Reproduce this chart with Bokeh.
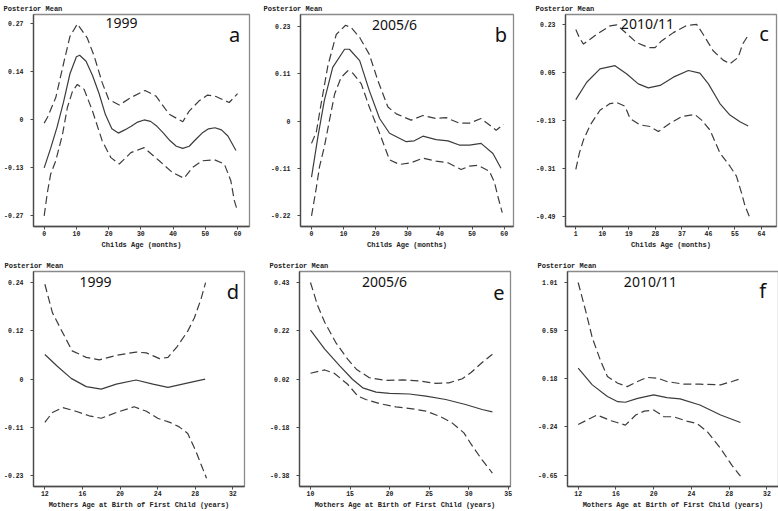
import numpy as np
from bokeh.plotting import figure
from bokeh.models import Range1d, FixedTicker, Label
from bokeh.layouts import column, row
from bokeh.embed import file_html
from bokeh.resources import INLINE

# ---------------- data ----------------
# Panel a: Childs Age, 1999
a_mean_x = [0, 2, 4, 6, 8, 10, 11, 13, 15, 17, 19, 21, 23, 25, 27, 29, 31, 33, 35, 37, 39, 41, 43, 45, 47, 49, 51, 53, 55, 57, 59.5]
a_mean = [-0.135, -0.08, -0.02, 0.05, 0.13, 0.178, 0.182, 0.165, 0.125, 0.075, 0.015, -0.025, -0.037, -0.028, -0.018, -0.006, 0.0, -0.004, -0.018, -0.037, -0.058, -0.074, -0.08, -0.074, -0.055, -0.037, -0.025, -0.022, -0.028, -0.045, -0.086]
a_up_x = [0, 1, 3.6, 6.2, 8, 10.3, 13.4, 15.5, 18, 20, 23.3, 26.9, 31.3, 34.7, 38.8, 43, 45, 48, 50.7, 53.3, 57.4, 60]
a_up = [-0.009, 0.007, 0.063, 0.166, 0.235, 0.27, 0.23, 0.18, 0.105, 0.058, 0.042, 0.063, 0.083, 0.067, 0.016, -0.005, 0.025, 0.053, 0.07, 0.066, 0.049, 0.074]
a_lo_x = [0, 1, 2, 3.6, 5.7, 7.2, 8.8, 10.3, 12.4, 15, 18, 20.7, 23.3, 26.9, 31, 35.7, 39.8, 43.4, 46, 49, 52.8, 55.9, 57.9, 59, 60]
a_lo = [-0.27, -0.204, -0.153, -0.115, -0.04, 0.035, 0.081, 0.1, 0.086, 0.025, -0.059, -0.106, -0.124, -0.092, -0.078, -0.115, -0.148, -0.164, -0.134, -0.115, -0.112, -0.124, -0.171, -0.227, -0.257]

# Panel b: Childs Age, 2005/6
b_mean_x = [0, 2, 4, 6.6, 10.3, 11.8, 15, 18, 21.2, 24.3, 29.5, 32, 34.7, 38.8, 42.5, 46, 49.2, 52.8, 56.5, 59]
b_mean = [-0.128, -0.032, 0.054, 0.132, 0.175, 0.175, 0.148, 0.077, 0.011, -0.024, -0.044, -0.042, -0.031, -0.039, -0.042, -0.052, -0.052, -0.048, -0.072, -0.107]
b_up_x = [0, 1.5, 3, 5.1, 7.7, 10.6, 12.4, 15, 18, 20.7, 23.8, 26.4, 31, 34.7, 38.8, 41.9, 46, 49.2, 52.8, 57.5, 59.8]
b_up = [-0.048, -0.021, 0.046, 0.136, 0.21, 0.232, 0.226, 0.203, 0.163, 0.1, 0.038, 0.022, 0.007, 0.018, 0.011, 0.013, 0.0, 0.0, 0.011, -0.017, -0.003]
b_lo_x = [0, 1.5, 2.5, 4, 5.6, 7.2, 9.2, 11.3, 12.9, 15.5, 18, 21.2, 24.3, 27.4, 31, 34.7, 38.8, 42.5, 46.6, 49.2, 51.8, 55.4, 57, 58, 59.4]
b_lo = [-0.22, -0.153, -0.103, -0.056, 0.007, 0.069, 0.108, 0.124, 0.118, 0.093, 0.038, -0.024, -0.087, -0.098, -0.094, -0.083, -0.09, -0.094, -0.11, -0.102, -0.1, -0.114, -0.141, -0.173, -0.212]

# Panel c: Childs Age, 2010/11
c_mean_x = [1, 4.7, 9.2, 14.3, 18.3, 22.2, 25.6, 29.6, 34.1, 39.2, 43.1, 46, 49.9, 53.3, 56.7, 59.5]
c_mean = [-0.052, 0.013, 0.063, 0.075, 0.044, 0.007, -0.008, 0.001, 0.032, 0.057, 0.047, 0.007, -0.067, -0.11, -0.135, -0.151]
c_up_x = [1, 2.2, 3.6, 8.1, 12.6, 14.9, 18.3, 21.6, 25.6, 27.9, 30.1, 34.1, 38.6, 42, 44.2, 47.6, 51, 53.3, 56.1, 57.6, 59.5]
c_up = [0.211, 0.18, 0.156, 0.193, 0.224, 0.228, 0.195, 0.162, 0.143, 0.143, 0.168, 0.199, 0.226, 0.23, 0.193, 0.131, 0.096, 0.082, 0.106, 0.156, 0.189]
c_lo_x = [1, 2.2, 3.6, 5.9, 9.2, 12.6, 14.9, 17.7, 19.4, 22.8, 26.2, 29, 33, 36.9, 41.4, 43.7, 46.5, 49.9, 53.3, 55.5, 57.2, 58.4, 60]
c_lo = [-0.314, -0.253, -0.203, -0.147, -0.092, -0.067, -0.063, -0.077, -0.123, -0.147, -0.153, -0.172, -0.141, -0.116, -0.108, -0.129, -0.166, -0.252, -0.302, -0.339, -0.401, -0.45, -0.494]

# Panel d: Mothers Age, 1999
d_mean_x = [12, 13.35, 14.8, 16.4, 18, 19.6, 21.7, 23.5, 25.1, 27, 29.05]
d_mean = [0.065, 0.036, 0.007, -0.013, -0.019, -0.007, 0.003, -0.007, -0.015, -0.005, 0.005]
d_up_x = [12, 12.8, 13.9, 14.9, 16.4, 17.8, 19.6, 21.7, 22.8, 24.2, 25.1, 26.1, 27.2, 27.9, 28.6, 29.1]
d_up = [0.236, 0.167, 0.118, 0.074, 0.058, 0.052, 0.063, 0.071, 0.069, 0.055, 0.058, 0.085, 0.122, 0.154, 0.199, 0.24]
d_lo_x = [12, 12.8, 13.9, 15.3, 16.7, 18, 19.6, 21.5, 22.8, 24, 25.3, 26.3, 27.2, 28.1, 28.8, 29.2]
d_lo = [-0.1, -0.076, -0.064, -0.073, -0.084, -0.09, -0.076, -0.062, -0.073, -0.09, -0.1, -0.111, -0.127, -0.172, -0.213, -0.236]

# Panel e: Mothers Age, 2005/6
e_mean_x = [10, 11.8, 13.7, 15.3, 16.6, 18.3, 20, 22.5, 24.6, 27.1, 29.6, 31.7, 33]
e_mean = [0.23, 0.15, 0.08, 0.024, -0.012, -0.03, -0.035, -0.038, -0.047, -0.061, -0.082, -0.103, -0.113]
e_up_x = [10, 10.9, 11.8, 13.2, 14.7, 15.8, 17.4, 19.5, 21.6, 23.7, 25.8, 27.5, 29.2, 30.3, 31.7, 33]
e_up = [0.43, 0.333, 0.263, 0.178, 0.108, 0.066, 0.031, 0.019, 0.021, 0.017, 0.007, 0.009, 0.026, 0.052, 0.094, 0.129]
e_lo_x = [10, 11.8, 13, 14.7, 16, 17, 18.7, 20.8, 22.9, 24.6, 26.3, 27.9, 29.4, 30.5, 31.7, 33]
e_lo = [0.049, 0.063, 0.049, 0.003, -0.047, -0.061, -0.078, -0.092, -0.1, -0.11, -0.131, -0.159, -0.201, -0.258, -0.314, -0.37]

# Panel f: Mothers Age, 2010/11
f_mean_x = [12, 13.5, 15.1, 16.2, 17, 18.3, 20, 21.4, 22.8, 24.9, 27.1, 29.2]
f_mean = [0.273, 0.128, 0.027, -0.017, -0.022, 0.012, 0.041, 0.018, 0.007, -0.046, -0.132, -0.196]
f_up_x = [12, 12.8, 13.5, 14.4, 15.1, 16.2, 17.2, 18.3, 19.3, 20.4, 21.4, 23.2, 24.9, 27.1, 28.3, 29.2]
f_up = [1.01, 0.764, 0.533, 0.33, 0.2, 0.142, 0.113, 0.157, 0.192, 0.186, 0.157, 0.134, 0.134, 0.128, 0.157, 0.18]
f_lo_x = [12, 14, 15.5, 17, 18.1, 19, 20, 21.1, 22.1, 23.5, 24.6, 25.7, 27.1, 28.3, 29.2]
f_lo = [-0.213, -0.132, -0.181, -0.219, -0.132, -0.098, -0.089, -0.147, -0.147, -0.184, -0.205, -0.277, -0.421, -0.566, -0.659]

# ticks
a_xticks = [0, 10, 20, 30, 40, 50, 60]
b_xticks = [0, 10, 20, 30, 40, 50, 60]
c_xticks = [1, 10, 19, 28, 37, 46, 55, 64]
d_xticks = [12, 16, 20, 24, 28, 32]
e_xticks = [10, 15, 20, 25, 30, 35]
f_xticks = [12, 16, 20, 24, 28, 32]

a_ylabels = ["-0.27", "-0.13", "0", "0.14", "0.27"]
b_ylabels = ["-0.22", "-0.11", "0", "0.11", "0.23"]
c_ylabels = ["-0.49", "-0.31", "-0.13", "0.05", "0.23"]
d_ylabels = ["-0.23", "-0.11", "0", "0.12", "0.24"]
e_ylabels = ["-0.38", "-0.18", "0.02", "0.22", "0.43"]
f_ylabels = ["-0.65", "-0.24", "0.18", "0.59", "1.01"]

years = ["1999", "2005/6", "2010/11", "1999", "2005/6", "2010/11"]
letters = ["a", "b", "c", "d", "e", "f"]
xlabel_child = "Childs Age (months)"
xlabel_mother = "Mothers Age at Birth of First Child (years)"
ylabel_text = "Posterior Mean"

LINE = "#3c3c3c"
MONO = "Liberation Mono"
SANS = "Noto Sans"


def build(series, xr, yr, xticks, ylabels, xlabel, i, geo):
    (left, right, top, bottom, fw, fh, pm_dx, yr_x, yr_dy, let_dx, let_dy) = geo
    p = figure(frame_width=fw, frame_height=fh,
               x_range=Range1d(*xr), y_range=Range1d(*yr),
               output_backend="svg", toolbar_location=None,
               min_border_left=left, min_border_right=right,
               min_border_top=top, min_border_bottom=bottom)
    p.xgrid.visible = False
    p.ygrid.visible = False
    p.outline_line_color = "#8a8a8a"
    p.outline_line_width = 1.3

    # "Posterior Mean" as the plot title, placed at the top-left
    p.title.text = ylabel_text
    p.title.align = "left"
    p.title.offset = pm_dx
    p.title.standoff = 4
    p.title.text_font = MONO
    p.title.text_font_style = "bold"
    p.title.text_font_size = "7px"
    p.title.text_color = "#222222"

    lo_v = float(ylabels[0]); hi_v = float(ylabels[-1])
    yt = [float(v) for v in np.linspace(lo_v, hi_v, len(ylabels))]
    p.yaxis.ticker = FixedTicker(ticks=yt)
    p.yaxis.major_label_overrides = {v: s for v, s in zip(yt, ylabels)}
    p.xaxis.ticker = FixedTicker(ticks=xticks)
    for ax in (p.xaxis[0], p.yaxis[0]):
        ax.axis_line_color = "#4a4a4a"
        ax.axis_line_width = 1.3
        ax.major_tick_line_color = "#4a4a4a"
        ax.major_tick_out = 3
        ax.major_tick_in = 0
        ax.minor_tick_line_color = None
        ax.major_label_text_font = MONO
        ax.major_label_text_font_style = "bold"
        ax.major_label_text_color = "#222222"
        ax.major_label_text_font_size = "6.5px"
    p.yaxis.major_label_standoff = 7
    p.xaxis.major_label_standoff = 1
    p.xaxis.axis_label = xlabel
    p.xaxis.axis_label_text_font = MONO
    p.xaxis.axis_label_text_font_style = "bold"
    p.xaxis.axis_label_text_font_size = "7px"
    p.xaxis.axis_label_text_color = "#222222"
    p.xaxis.axis_label_standoff = 2

    (mx, my), (ux, uy), (lx, ly) = series
    p.line(mx, my, line_color=LINE, line_width=1.2)
    p.line(ux, uy, line_color=LINE, line_width=1.2, line_dash="8 4")
    p.line(lx, ly, line_color=LINE, line_width=1.2, line_dash="8 4")

    p.add_layout(Label(x=yr_x, y=fh - yr_dy, x_units="screen", y_units="screen",
                       text=years[i], text_font=SANS, text_font_size="14px",
                       text_baseline="middle", text_align="center", text_color="#111111"))
    p.add_layout(Label(x=fw - let_dx, y=fh - let_dy, x_units="screen", y_units="screen",
                       text=letters[i], text_font=SANS, text_font_size="20px",
                       text_baseline="alphabetic", text_align="center", text_color="#111111"))
    return p


# geometry: left, right, top, bottom, frame_w, frame_h, pm_dx, year_x, year_dy, letter_dx, letter_dy
pa = build([(a_mean_x, a_mean), (a_up_x, a_up), (a_lo_x, a_lo)], (-3.31, 63.7), (-0.2998, 0.2967),
           a_xticks, a_ylabels, xlabel_child, 0, (31, 13, 13, 26, 216, 212, -30, 88, 8.5, 15, 19.5))
pb = build([(b_mean_x, b_mean), (b_up_x, b_up), (b_lo_x, b_lo)], (-3.43, 62.9), (-0.245, 0.2574),
           b_xticks, b_ylabels, xlabel_child, 1, (38, 7, 13, 26, 213, 212, -37, 94, 10, 12.5, 19.5))
pc = build([(c_mean_x, c_mean), (c_up_x, c_up), (c_lo_x, c_lo)], (-2.5, 69.1), (-0.528, 0.267),
           c_xticks, c_ylabels, xlabel_child, 2, (45, 4, 13, 26, 211, 212, -30, 82, 8.5, 12.5, 19))
pd_ = build([(d_mean_x, d_mean), (d_up_x, d_up), (d_lo_x, d_lo)], (10.79, 33.24), (-0.256, 0.267),
            d_xticks, d_ylabels, xlabel_mother, 3, (31, 18, 19, 24, 211, 215, -29, 62, 10, 11.7, 20))
pe = build([(e_mean_x, e_mean), (e_up_x, e_up), (e_lo_x, e_lo)], (8.61, 35.29), (-0.426, 0.476),
           e_xticks, e_ylabels, xlabel_mother, 4, (37, 10, 19, 24, 211, 215, -30, 85, 9.7, 11.6, 21))
pf = build([(f_mean_x, f_mean), (f_up_x, f_up), (f_lo_x, f_lo)], (10.87, 33.23), (-0.748, 1.105),
           f_xticks, f_ylabels, xlabel_mother, 5, (47, 2, 19, 24, 211, 215, -30, 83, 10, 15.8, 18.6))

layout = column(row(pa, pb, pc), row(pd_, pe, pf))

open("out.html", "w").write(file_html(layout, INLINE))
